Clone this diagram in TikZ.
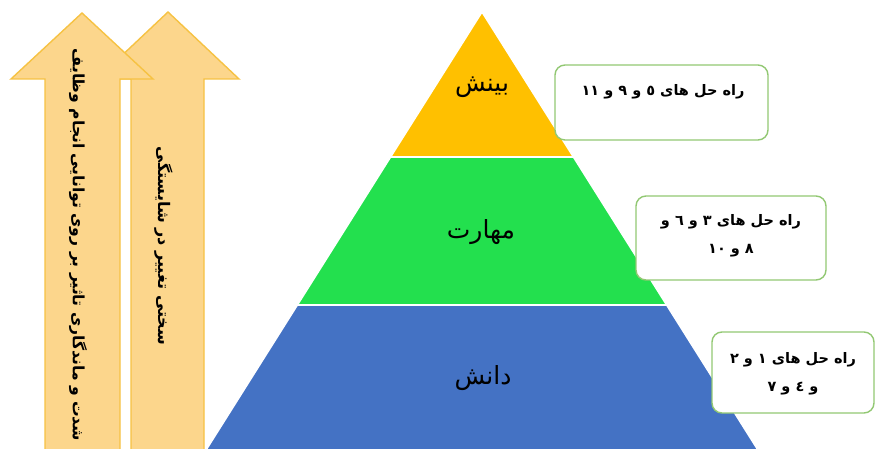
\documentclass[tikz,border=0pt]{standalone}
\usepackage{fontspec}
\newfontfamily\arabicfont[Script=Arabic]{DejaVu Sans}
\TeXXeTstate=1
\definecolor{arrfill}{HTML}{FCD68C}
\definecolor{arrdraw}{HTML}{F6C243}
\definecolor{pgold}{HTML}{FFC000}
\definecolor{pgreen}{HTML}{23E04E}
\definecolor{pblue}{HTML}{4472C4}
\definecolor{boxdraw}{HTML}{92C873}
\tikzset{
  bigarrow/.style={fill=arrfill, draw=arrdraw, line width=1.4pt, line join=miter},
  band/.style={draw=white, line width=1.5pt},
  solbox/.style={draw=boxdraw, fill=white, line width=1.4pt, rounded corners=10pt, inner sep=0pt},
  soltext/.style={font=\arabicfont\bfseries\fontsize{14.5}{27.5}\selectfont, align=center, inner sep=0pt},
  levtext/.style={font=\arabicfont\fontsize{25}{28}\selectfont, inner sep=0pt},
  arrtext/.style={font=\arabicfont\bfseries\fontsize{16}{19}\selectfont, rotate=-90, inner sep=0pt}
}
\begin{document}
\begin{tikzpicture}[x=1pt,y=-1pt]
\useasboundingbox (0,0) rectangle (876,449);
\clip (0,0) rectangle (876,449);
% arrows
\draw[bigarrow] (131,470) -- (131,79) -- (97,79) -- (168,12) -- (239,79) -- (204,79) -- (204,470) -- cycle;
\draw[bigarrow] (45,470) -- (45,79) -- (11,79) -- (82,13) -- (153,79) -- (120,79) -- (120,470) -- cycle;
\node[arrtext] (a2) at (164,246) {\beginR سختی تغییر در شایستگی\endR};
\node[arrtext, font=\arabicfont\bfseries\fontsize{15.6}{19}\selectfont] (a1) at (78,245) {\beginR شدت و ماندگاری تاثیر بر روی توانایی انجام وظایف\endR};
% pyramid
\fill[pblue, band] (297.4,305) -- (666.6,305) -- (764.2,460) -- (199.8,460) -- cycle;
\fill[pgreen, band] (390.6,157) -- (573.4,157) -- (666.6,305) -- (297.4,305) -- cycle;
\fill[pgold, band] (482,12) -- (573.4,157) -- (390.6,157) -- cycle;
\draw[white, line width=1.5pt] (297.4,305) -- (666.6,305);
\draw[white, line width=1.5pt] (390.6,157) -- (573.4,157);
\node[levtext] (l1) at (482,87) {\beginR بینش\endR};
\node[levtext] (l2) at (481,232) {\beginR مهارت\endR};
\node[levtext] (l3) at (483,378) {\beginR دانش\endR};
% solution boxes
\node[solbox, minimum width=213pt, minimum height=75pt] (b1) at (661.5,102.5) {};
\node[soltext] (t1) at (663,92) {\beginR راه حل های ٥ و ٩ و ١١\endR};
\node[solbox, minimum width=190pt, minimum height=84pt] (b2) at (731,238) {};
\node[soltext] (t2) at (731,236) {\beginR راه حل های ٣ و ٦ و\endR\\\beginR ٨ و ١٠\endR};
\node[solbox, minimum width=162pt, minimum height=81pt] (b3) at (793,372.5) {};
\node[soltext] (t3) at (793,374) {\beginR راه حل های ١ و ٢\endR\\\beginR و ٤ و ٧\endR};
\end{tikzpicture}
\end{document}
